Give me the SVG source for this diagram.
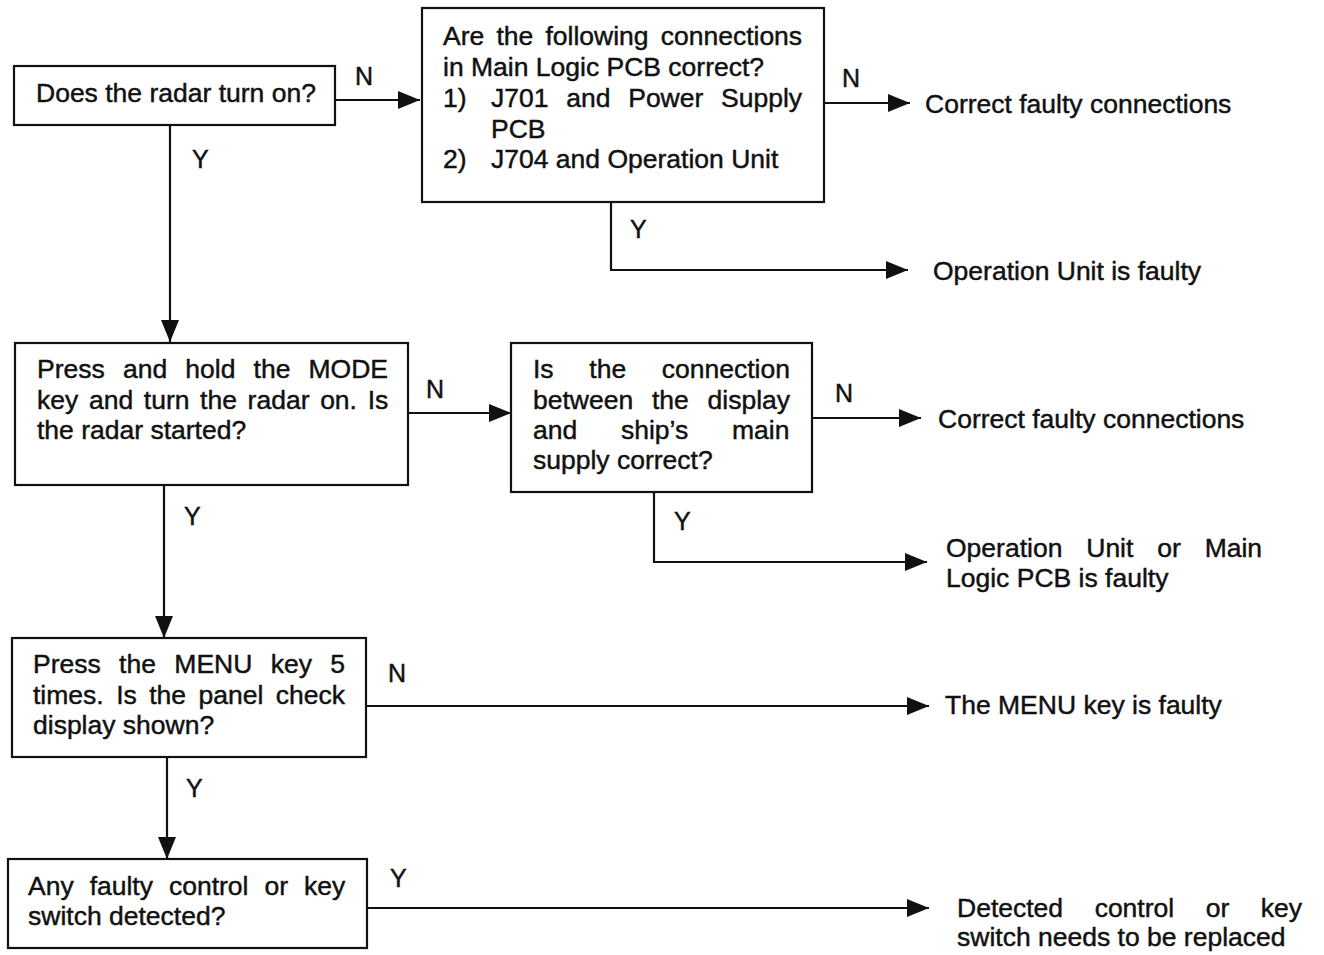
<svg xmlns="http://www.w3.org/2000/svg" width="1324" height="955" viewBox="0 0 1324 955">
  <style>
    .box { fill: #fff; stroke: #111; stroke-width: 2.2; }
    .t { font-family: "Liberation Sans", Arial, Helvetica, sans-serif; font-size: 26.5px; fill: #111; stroke: #111; stroke-width: 0.45; }
    .lbl { font-family: "Liberation Sans", Arial, Helvetica, sans-serif; font-size: 25px; fill: #111; stroke: #111; stroke-width: 0.45; }
    .wire { fill: none; stroke: #111; stroke-width: 2.2; marker-end: url(#arrow); }
  </style>
  <defs>
    <marker id="arrow" markerUnits="userSpaceOnUse" markerWidth="22" markerHeight="18" refX="22" refY="9" orient="auto">
      <path d="M0,0 L22,9 L0,18 z" fill="#111"/>
    </marker>
  </defs>
  <rect width="1324" height="955" fill="#fff"/>

  <!-- connectors with their Y/N labels -->
  <g id="connectors">
    <path class="wire" d="M335,100 H420"/>
    <path class="wire" d="M170,125 V342"/>
    <path class="wire" d="M824,103 H910"/>
    <path class="wire" d="M611,202 V270 H908"/>
    <path class="wire" d="M408,413 H511"/>
    <path class="wire" d="M164,485 V638"/>
    <path class="wire" d="M812,418 H921"/>
    <path class="wire" d="M654,492 V562 H927"/>
    <path class="wire" d="M366,706 H929"/>
    <path class="wire" d="M167,757 V859"/>
    <path class="wire" d="M367,908 H929"/>
    <text class="lbl" x="355" y="85">N</text>
    <text class="lbl" x="192" y="168">Y</text>
    <text class="lbl" x="842" y="87">N</text>
    <text class="lbl" x="630" y="238">Y</text>
    <text class="lbl" x="426" y="398">N</text>
    <text class="lbl" x="184" y="525">Y</text>
    <text class="lbl" x="835" y="402">N</text>
    <text class="lbl" x="674" y="530">Y</text>
    <text class="lbl" x="388" y="682">N</text>
    <text class="lbl" x="186" y="797">Y</text>
    <text class="lbl" x="390" y="887">Y</text>
  </g>

  <!-- decision: power on -->
  <g id="q-power">
    <rect class="box" x="14" y="66" width="321" height="59"/>
    <text class="t" x="36" y="102">Does the radar turn on?</text>
  </g>

  <!-- decision: main logic connections -->
  <g id="q-connections">
    <rect class="box" x="422" y="8" width="402" height="194"/>
    <text class="t" x="443" y="45" style="word-spacing:4.8px">Are the following connections</text>
    <text class="t" x="443" y="76">in Main Logic PCB correct?</text>
    <text class="t" y="107"><tspan x="443">1)</tspan><tspan x="491" style="word-spacing:10.4px">J701 and Power Supply</tspan></text>
    <text class="t" x="491" y="138">PCB</text>
    <text class="t" y="168"><tspan x="443">2)</tspan><tspan x="491">J704 and Operation Unit</tspan></text>
  </g>

  <g id="r-fix-1">
    <text class="t" x="925" y="113">Correct faulty connections</text>
  </g>
  <g id="r-opunit">
    <text class="t" x="933" y="280">Operation Unit is faulty</text>
  </g>

  <!-- decision: MODE key start -->
  <g id="q-mode">
    <rect class="box" x="15" y="343" width="393" height="142"/>
    <text class="t" x="37" y="378" style="word-spacing:10.8px">Press and hold the MODE</text>
    <text class="t" x="37" y="409" style="word-spacing:3.3px">key and turn the radar on. Is</text>
    <text class="t" x="37" y="439">the radar started?</text>
  </g>

  <!-- decision: ship's main supply -->
  <g id="q-supply">
    <rect class="box" x="511" y="343" width="301" height="149"/>
    <text class="t" x="533" y="378" style="word-spacing:28.3px">Is the connection</text>
    <text class="t" x="533" y="409" style="word-spacing:11.4px">between the display</text>
    <text class="t" x="533" y="439" style="word-spacing:36.4px">and ship’s main</text>
    <text class="t" x="533" y="469">supply correct?</text>
  </g>

  <g id="r-fix-2">
    <text class="t" x="938" y="428">Correct faulty connections</text>
  </g>
  <g id="r-opunit-logic">
    <text class="t" x="946" y="557" style="word-spacing:16.5px">Operation Unit or Main</text>
    <text class="t" x="946" y="587">Logic PCB is faulty</text>
  </g>

  <!-- decision: MENU key -->
  <g id="q-menu">
    <rect class="box" x="12" y="638" width="354" height="119"/>
    <text class="t" x="33" y="673" style="word-spacing:11px">Press the MENU key 5</text>
    <text class="t" x="33" y="704" style="word-spacing:5.1px">times. Is the panel check</text>
    <text class="t" x="33" y="734">display shown?</text>
  </g>

  <g id="r-menu">
    <text class="t" x="945" y="714">The MENU key is faulty</text>
  </g>

  <!-- decision: faulty control -->
  <g id="q-control">
    <rect class="box" x="8" y="859" width="359" height="89"/>
    <text class="t" x="28" y="895" style="word-spacing:8.6px">Any faulty control or key</text>
    <text class="t" x="28" y="925">switch detected?</text>
  </g>

  <g id="r-replace">
    <text class="t" x="957" y="917" style="word-spacing:24.2px">Detected control or key</text>
    <text class="t" x="957" y="946">switch needs to be replaced</text>
  </g>
</svg>
